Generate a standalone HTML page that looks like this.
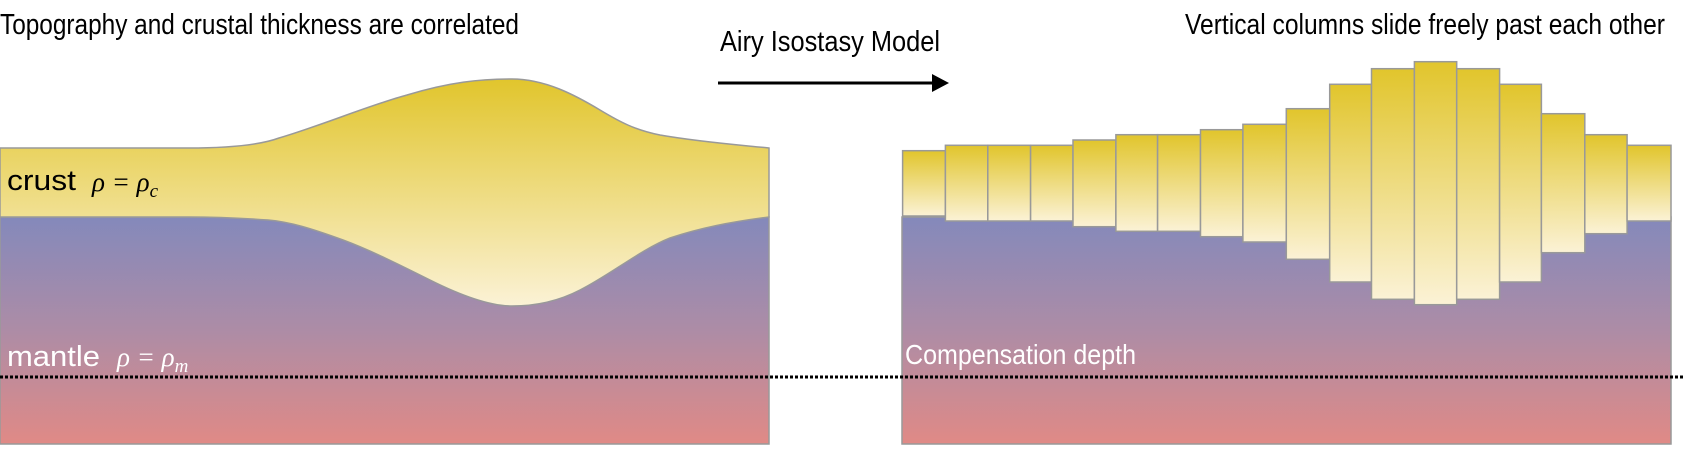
<!DOCTYPE html>
<html><head><meta charset="utf-8"><style>
html,body{margin:0;padding:0;background:#fff;width:1684px;height:460px;overflow:hidden}
</style></head><body>
<svg width="1684" height="460" viewBox="0 0 1684 460" xmlns="http://www.w3.org/2000/svg">
<defs>
<linearGradient id="man" x1="0" y1="217" x2="0" y2="444" gradientUnits="userSpaceOnUse">
<stop offset="0" stop-color="#8489bb"/><stop offset="0.5" stop-color="#ad8ca6"/><stop offset="1" stop-color="#e08a86"/>
</linearGradient>
<linearGradient id="cr" x1="0" y1="0" x2="0" y2="1">
<stop offset="0" stop-color="#e1c52c"/><stop offset="1" stop-color="#fbf2d6"/>
</linearGradient>
</defs>
<g font-family="'Liberation Sans Narrow','Liberation Sans',sans-serif" fill="#000">
<text x="0" y="34" font-size="29" textLength="519" lengthAdjust="spacingAndGlyphs">Topography and crustal thickness are correlated</text>
<text x="720" y="51" font-size="29" textLength="220" lengthAdjust="spacingAndGlyphs">Airy Isostasy Model</text>
<text x="1185" y="34" font-size="29" textLength="480" lengthAdjust="spacingAndGlyphs">Vertical columns slide freely past each other</text>
</g>
<line x1="718" y1="83" x2="934" y2="83" stroke="#000" stroke-width="3"/>
<polygon points="932,74 949,83 932,92" fill="#000"/>

<!-- left panel -->
<rect x="0" y="217" width="769" height="227" fill="url(#man)" stroke="#999" stroke-width="1.5"/>
<path d="M0,148 L188,148 C230,148 260,145 279,138 C320,126 370,105 407,95 C450,82 480,79 512,79 C545,79 575,95 600,110 C620,122 635,130 660,135 C700,142 740,145 769,148 L769,217 C730,222 700,228 670,238 C640,250 610,275 580,290 C555,303 530,306 512,306 C490,306 460,295 430,280 C400,265 370,250 343,240 C310,228 290,222 268,220 C240,218 210,217 188,217 L0,217 Z" fill="url(#cr)" stroke="#999" stroke-width="1.5"/>
<text x="7" y="190" font-family="'Liberation Sans Narrow','Liberation Sans',sans-serif" font-size="29" fill="#000" textLength="69" lengthAdjust="spacingAndGlyphs">crust</text>
<text x="92" y="191" font-family="'Liberation Serif',serif" font-style="italic" font-size="27" fill="#000">ρ = ρ<tspan font-size="19" dy="6">c</tspan></text>
<text x="7" y="366" font-family="'Liberation Sans Narrow','Liberation Sans',sans-serif" font-size="29" fill="#fff" textLength="93" lengthAdjust="spacingAndGlyphs">mantle</text>
<text x="117" y="366" font-family="'Liberation Serif',serif" font-style="italic" font-size="27" fill="#fff">ρ = ρ<tspan font-size="19" dy="6">m</tspan></text>

<!-- right panel -->
<rect x="902" y="217" width="769" height="227" fill="url(#man)" stroke="#999" stroke-width="1.5"/>
<g fill="url(#cr)" stroke="#999" stroke-width="1.5">
<rect x="902.6" y="150.7" width="42.8" height="65.3"/>
<rect x="945.4" y="145.3" width="42.4" height="75.7"/>
<rect x="987.8" y="145.3" width="42.8" height="75.7"/>
<rect x="1030.6" y="145.3" width="42.4" height="75.7"/>
<rect x="1073" y="140" width="42.9" height="86.7"/>
<rect x="1115.9" y="134.7" width="41.7" height="96.6"/>
<rect x="1157.6" y="134.7" width="42.9" height="96.6"/>
<rect x="1200.5" y="129.7" width="42.4" height="107"/>
<rect x="1242.9" y="124.3" width="43.4" height="117.7"/>
<rect x="1286.3" y="108.7" width="43.4" height="150.6"/>
<rect x="1329.7" y="84.3" width="41.8" height="197.7"/>
<rect x="1371.5" y="68.7" width="42.9" height="230.6"/>
<rect x="1414.4" y="61.7" width="42.3" height="243"/>
<rect x="1456.7" y="68.7" width="42.9" height="230.6"/>
<rect x="1499.6" y="84.3" width="41.8" height="197.7"/>
<rect x="1541.4" y="113.7" width="43.4" height="139"/>
<rect x="1584.8" y="134.7" width="42.3" height="99"/>
<rect x="1627.1" y="145.3" width="43.9" height="75.7"/>
</g>
<text x="905" y="364" font-family="'Liberation Sans Narrow','Liberation Sans',sans-serif" font-size="28" fill="#fff" textLength="231" lengthAdjust="spacingAndGlyphs">Compensation depth</text>

<line x1="0" y1="377" x2="1684" y2="377" stroke="#000" stroke-width="3" stroke-dasharray="3,2"/>
</svg>
</body></html>
